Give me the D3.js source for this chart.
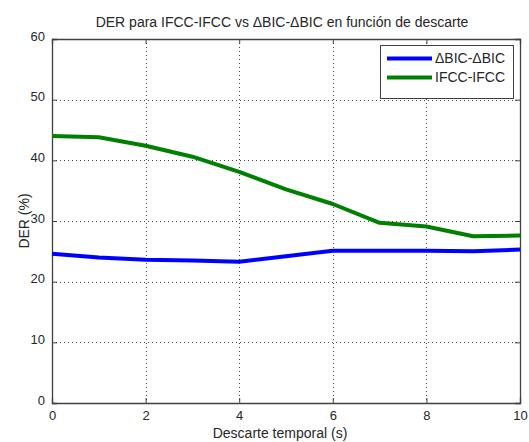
<!DOCTYPE html>
<html><head><meta charset="utf-8">
<script src="https://cdn.jsdelivr.net/npm/d3@7"></script>
<style>body{margin:0;background:#fff}svg{display:block}text{font-family:"Liberation Sans",Arial,sans-serif;fill:#262626}</style>
</head><body><svg id="c" width="529" height="442"></svg>
<script>
const xValues = [0,1,2,3,4,5,6,7,8,9,10];
const bicValues = [24.6,24.0,23.6,23.5,23.3,24.2,25.1,25.1,25.1,25.0,25.3];
const ifccValues = [44.0,43.8,42.4,40.6,38.1,35.2,32.8,29.7,29.1,27.5,27.6];
const seriesNames = ["\u0394BIC-\u0394BIC","IFCC-IFCC"];
const seriesColors = ["#0000ff","#008000"];
const xTicks = [0,2,4,6,8,10];
const yTicks = [0,10,20,30,40,50,60];
const titleText = "DER para IFCC-IFCC vs \u0394BIC-\u0394BIC en funci\u00f3n de descarte";
const xLabel = "Descarte temporal (s)";
const yLabel = "DER (%)";

const L=52,R=520,T=39,B=403;
const FS=14, TFS=13;
const svg=d3.select("#c");
const x=d3.scaleLinear().domain([0,10]).range([L,R]);
const y=d3.scaleLinear().domain([0,60]).range([B,T]);

// grid
const g=svg.append("g");
g.selectAll(".gx").data(xTicks.filter(d=>d>0&&d<10)).join("line")
 .attr("x1",d=>Math.round(x(d))+0.5).attr("x2",d=>Math.round(x(d))+0.5).attr("y1",T).attr("y2",B)
 .attr("stroke","#444").attr("stroke-width",1).attr("stroke-dasharray","1,3");
g.selectAll(".gy").data(yTicks.filter(d=>d>0&&d<60)).join("line")
 .attr("y1",d=>Math.round(y(d))+0.5).attr("y2",d=>Math.round(y(d))+0.5).attr("x1",L).attr("x2",R)
 .attr("stroke","#444").attr("stroke-width",1).attr("stroke-dasharray","1,3");

// axes
const ax=svg.append("g").attr("transform",`translate(0,${B})`)
 .call(d3.axisBottom(x).tickValues(xTicks).tickSize(-5).tickPadding(8).tickFormat(d3.format("d")));
const ay=svg.append("g").attr("transform",`translate(${L},0)`)
 .call(d3.axisLeft(y).tickValues(yTicks).tickSize(-5).tickPadding(7).tickFormat(d3.format("d")));
const axTop=svg.append("g").attr("transform",`translate(0,${T})`)
 .call(d3.axisTop(x).tickValues(xTicks).tickSize(-5).tickFormat(""));
const ayR=svg.append("g").attr("transform",`translate(${R},0)`)
 .call(d3.axisRight(y).tickValues(yTicks).tickSize(-5).tickFormat(""));
[ax,ay,axTop,ayR].forEach(a=>{
 a.selectAll("path").attr("stroke","#404040").attr("stroke-width",1.3);
 a.selectAll("line").attr("stroke","#404040");
 a.selectAll("text").attr("font-size",TFS).attr("fill","#262626").style("font-family","Liberation Sans, Arial, sans-serif");
});
ay.selectAll("text").attr("dy","0.1em");

// lines
const line=d3.line().x((d,i)=>x(xValues[i])).y(d=>y(d));
[bicValues,ifccValues].forEach((vals,k)=>{
 svg.append("path").datum(vals).attr("d",line).attr("fill","none")
  .attr("stroke",seriesColors[k]).attr("stroke-width",4).attr("stroke-linejoin","round");
});

// legend
const lg=svg.append("g");
lg.append("rect").attr("x",380.5).attr("y",45.5).attr("width",133).attr("height",53)
 .attr("fill","#fff").attr("stroke","#404040").attr("stroke-width",1);
seriesNames.forEach((n,k)=>{
 const yy=58.5+k*19;
 lg.append("line").attr("x1",387).attr("x2",432).attr("y1",yy).attr("y2",yy)
  .attr("stroke",seriesColors[k]).attr("stroke-width",4);
 lg.append("text").attr("x",435).attr("y",yy).attr("dy","0.35em").attr("font-size",FS).text(n);
});

// titles
svg.append("text").attr("x",282).attr("y",27).attr("text-anchor","middle").attr("font-size",FS).text(titleText);
svg.append("text").attr("x",280).attr("y",438).attr("text-anchor","middle").attr("font-size",FS).text(xLabel);
svg.append("text").attr("transform",`translate(29,221) rotate(-90)`).attr("text-anchor","middle").attr("font-size",FS).text(yLabel);
</script></body></html>
